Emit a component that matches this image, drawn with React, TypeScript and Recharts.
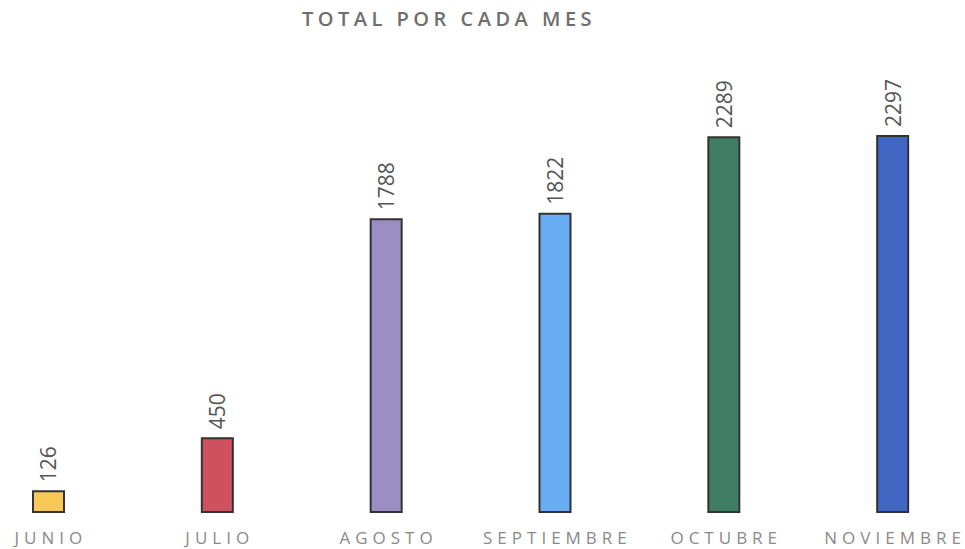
import { BarChart, Bar, XAxis, YAxis, Cell, LabelList } from "recharts";

const months = ["JUNIO", "JULIO", "AGOSTO", "SEPTIEMBRE", "OCTUBRE", "NOVIEMBRE"];
const totals = [126, 450, 1788, 1822, 2289, 2297];
const barColors = ["#F6C957", "#D0515E", "#9A8EC5", "#68ACF3", "#3F7D66", "#3F67C2"];

const data = months.map((mes, i) => ({ mes, total: totals[i] }));

const FONT = "'Open Sans', sans-serif";

function MonthTick({ x, y, payload }: any) {
  return (
    <text
      x={x + 2.5}
      y={y + 24}
      textAnchor="middle"
      fontFamily={FONT}
      fontSize={17}
      letterSpacing={5}
      fill="#8a8a8a"
    >
      {payload.value}
    </text>
  );
}

function ValueLabel({ x, y, width, value }: any) {
  const cx = x + width / 2;
  const ty = y - 9;
  return (
    <text
      x={cx}
      y={ty}
      transform={`rotate(-90 ${cx} ${ty})`}
      textAnchor="start"
      dominantBaseline="central"
      fontFamily={FONT}
      fontSize={21}
      fill="#555"
    >
      {value}
    </text>
  );
}

export default function App() {
  return (
    <div
      style={{
        position: "absolute",
        left: 0,
        top: 0,
        width: 965,
        height: 549,
        overflow: "hidden",
        background: "#fff",
      }}
    >
      <div
        style={{
          position: "absolute",
          left: 249,
          width: 400,
          top: 9,
          textAlign: "center",
          fontFamily: FONT,
          fontWeight: 600,
          fontSize: 20,
          lineHeight: 1,
          letterSpacing: 4.5,
          color: "#6e6e6e",
        }}
      >
        TOTAL POR CADA MES
      </div>
      <div style={{ position: "absolute", left: -36, top: 0 }}>
        <BarChart
          width={1013}
          height={549}
          data={data}
          margin={{ top: 70, right: 0, bottom: 0, left: 0 }}
        >
          <XAxis
            dataKey="mes"
            axisLine={false}
            tickLine={false}
            height={37}
            interval={0}
            tick={<MonthTick />}
          />
          <YAxis hide domain={[0, 2700]} width={0} />
          <Bar
            dataKey="total"
            barSize={31}
            stroke="#333"
            strokeWidth={2}
            isAnimationActive={false}
          >
            {data.map((d, i) => (
              <Cell key={d.mes} fill={barColors[i]} />
            ))}
            <LabelList dataKey="total" content={<ValueLabel />} />
          </Bar>
        </BarChart>
      </div>
    </div>
  );
}
